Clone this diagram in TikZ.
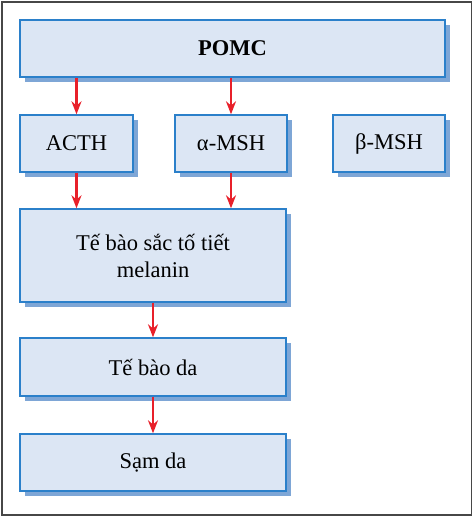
\documentclass[tikz,border=0pt]{standalone}
\usepackage{fontspec}
\setmainfont{Liberation Serif}
\usetikzlibrary{arrows.meta,shadows}
\definecolor{boxfill}{HTML}{DCE6F4}
\definecolor{boxline}{HTML}{2B80CA}
\definecolor{boxshade}{HTML}{7EA6D6}
\definecolor{arrowred}{HTML}{E8202A}
\definecolor{frame}{HTML}{474747}
\tikzset{
  box/.style={draw=boxline,fill=boxfill,line width=1.4pt,inner sep=0pt,
    minimum height=57pt,font=\fontsize{22.5}{27}\selectfont,
    drop shadow={shadow xshift=5pt,shadow yshift=-4.5pt,fill=boxshade,opacity=1}},
  arr/.style={draw=arrowred,line width=2.6pt,-{Stealth[length=13pt,width=10pt]}}
}

\begin{document}
\begin{tikzpicture}[x=1pt,y=-1pt]

\useasboundingbox (0,0) rectangle (474,517);
\draw[frame,line width=1.5pt] (2,2) rectangle (471.5,515);

% ---------------- top: precursor -------------------------------------------
\node[box,minimum width=425pt,font=\fontsize{22.5}{27}\selectfont\bfseries] (pomc) at (232.5,48.5) {POMC};

% ---------------- hormones -------------------------------------------------
\node[box,minimum width=113pt] (acth) at (76.5,143.5) {ACTH};
\node[box,minimum width=112pt] (amsh) at (231,143.5) {α-MSH};
\node[box,minimum width=112pt] (bmsh) at (389,143.5) {β-MSH};

% ---------------- cells and effect -----------------------------------------
\node[box,minimum width=266pt,minimum height=93pt,align=center] (melano) at (153,255.5)
  {Tế bào sắc tố tiết\\melanin};
\node[box,minimum width=266pt,minimum height=58pt] (skin) at (153,367) {Tế bào da};
\node[box,minimum width=266pt] (tan) at (153,462.5) {Sạm da};

% ---------------- arrows ---------------------------------------------------
\draw[arr] (pomc.south -| acth.north) -- (acth.north);
\draw[arr] (pomc.south -| amsh.north) -- (amsh.north);
\draw[arr] (acth.south) -- (melano.north -| acth.south);
\draw[arr] (amsh.south) -- (melano.north -| amsh.south);
\draw[arr] (melano.south) -- (skin.north);
\draw[arr] (skin.south) -- (tan.north);

\end{tikzpicture}
\end{document}
